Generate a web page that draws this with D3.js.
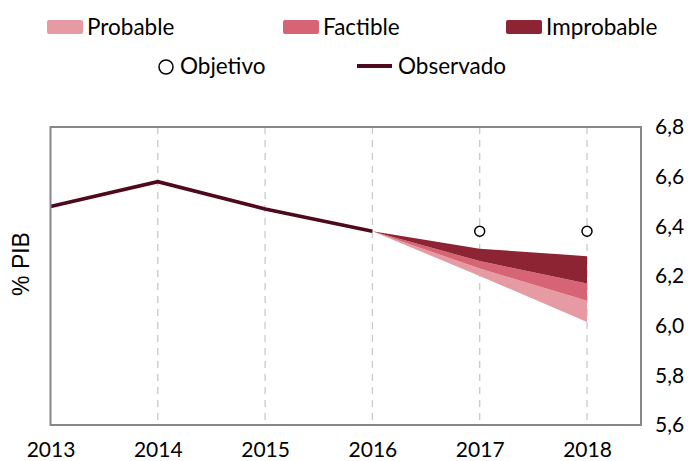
<!DOCTYPE html>
<html><head><meta charset="utf-8">
<script src="https://cdn.jsdelivr.net/npm/d3@7"></script>
<style>body{margin:0;background:#fff}svg{display:block}text{font-family:Lato,"Open Sans",sans-serif;fill:#000}</style>
</head><body><svg id="c" width="688" height="461"></svg>
<script>
const years = [2013, 2014, 2015, 2016, 2017, 2018];
const observed = [6.48, 6.58, 6.47, 6.38];
const observedYears = [2013, 2014, 2015, 2016];
const fanYears = [2016, 2017, 2018];
const fanTop = [6.38, 6.31, 6.28];
const improbableLow = [6.38, 6.26, 6.17];
const factibleLow = [6.38, 6.23, 6.10];
const probableLow = [6.38, 6.20, 6.015];
const targetYears = [2017, 2018];
const targetValues = [6.38, 6.38];
const yTicks = [5.6, 5.8, 6.0, 6.2, 6.4, 6.6, 6.8];

const colors = {probable: "#e59aa4", factible: "#d76474", improbable: "#8c2433", observed: "#4e0a1c"};

const svg = d3.select("#c");
const pLeft = 50.5, pRight = 641, pTop = 127, pBottom = 425;
const x = d3.scaleLinear().domain([2013, 2018]).range([pLeft, 587]);
const y = d3.scaleLinear().domain([5.6, 6.8]).range([pBottom, pTop]);

// gridlines
svg.append("g").selectAll("line").data(years.slice(1)).join("line")
  .attr("x1", d => x(d)).attr("x2", d => x(d)).attr("y1", pTop).attr("y2", pBottom)
  .attr("stroke", "#c9c9c9").attr("stroke-width", 1.3).attr("stroke-dasharray", "7,6");

// fan bands
const bands = [
  {hi: factibleLow, lo: probableLow, c: colors.probable},
  {hi: improbableLow, lo: factibleLow, c: colors.factible},
  {hi: fanTop, lo: improbableLow, c: colors.improbable}
];
bands.forEach(b => {
  const area = d3.area().x((d, i) => x(fanYears[i])).y0((d, i) => y(b.lo[i])).y1((d, i) => y(b.hi[i]));
  svg.append("path").attr("d", area(fanYears)).attr("fill", b.c);
});

// observed line
svg.append("path")
  .attr("d", d3.line().x((d, i) => x(observedYears[i])).y(d => y(d))(observed))
  .attr("fill", "none").attr("stroke", colors.observed).attr("stroke-width", 3.7);

// targets
svg.append("g").selectAll("circle").data(targetValues).join("circle")
  .attr("cx", (d, i) => x(targetYears[i])).attr("cy", d => y(d)).attr("r", 5)
  .attr("fill", "#fff").attr("stroke", "#000").attr("stroke-width", 1.5);

// frame
svg.append("rect").attr("x", pLeft).attr("y", pTop).attr("width", pRight - pLeft).attr("height", pBottom - pTop)
  .attr("fill", "none").attr("stroke", "#878787").attr("stroke-width", 2);

// axes labels
const xAxis = d3.axisBottom(x).tickValues(years).tickFormat(d3.format("d")).tickSize(0).tickPadding(17);
const gx = svg.append("g").attr("transform", `translate(0,${pBottom})`).call(xAxis);
gx.select(".domain").remove();
gx.selectAll("text").attr("font-size", 21).style("font-family", "Lato, sans-serif").attr("fill", "#000");

const yAxis = d3.axisRight(y).tickValues(yTicks).tickFormat(d => d3.format(".1f")(d).replace(".", ",")).tickSize(0).tickPadding(14);
const gy = svg.append("g").attr("transform", `translate(${pRight},0)`).call(yAxis);
gy.select(".domain").remove();
gy.selectAll("text").attr("font-size", 21).style("font-family", "Lato, sans-serif").attr("fill", "#000");

svg.append("text").attr("transform", "translate(29,264) rotate(-90)").attr("text-anchor", "middle")
  .style("font-family", "'Liberation Sans', Arial, sans-serif").attr("font-size", 23).text("% PIB");

// legend
const legRow1 = [
  {label: "Probable", x: 47, c: colors.probable},
  {label: "Factible", x: 283, c: colors.factible},
  {label: "Improbable", x: 506, c: colors.improbable}
];
legRow1.forEach(l => {
  svg.append("rect").attr("x", l.x).attr("y", 20).attr("width", 36).attr("height", 14).attr("rx", 2).attr("fill", l.c);
  svg.append("text").attr("x", l.x + 40).attr("y", 27).attr("dy", "0.35em").attr("font-size", 22.5).text(l.label);
});
svg.append("circle").attr("cx", 166).attr("cy", 67).attr("r", 7).attr("fill", "#fff").attr("stroke", "#000").attr("stroke-width", 1.5);
svg.append("text").attr("x", 180).attr("y", 66).attr("dy", "0.35em").attr("font-size", 22.5).text("Objetivo");
svg.append("line").attr("x1", 357).attr("x2", 392).attr("y1", 66).attr("y2", 66).attr("stroke", colors.observed).attr("stroke-width", 4);
svg.append("text").attr("x", 398).attr("y", 66).attr("dy", "0.35em").attr("font-size", 22.5).text("Observado");
</script></body></html>
